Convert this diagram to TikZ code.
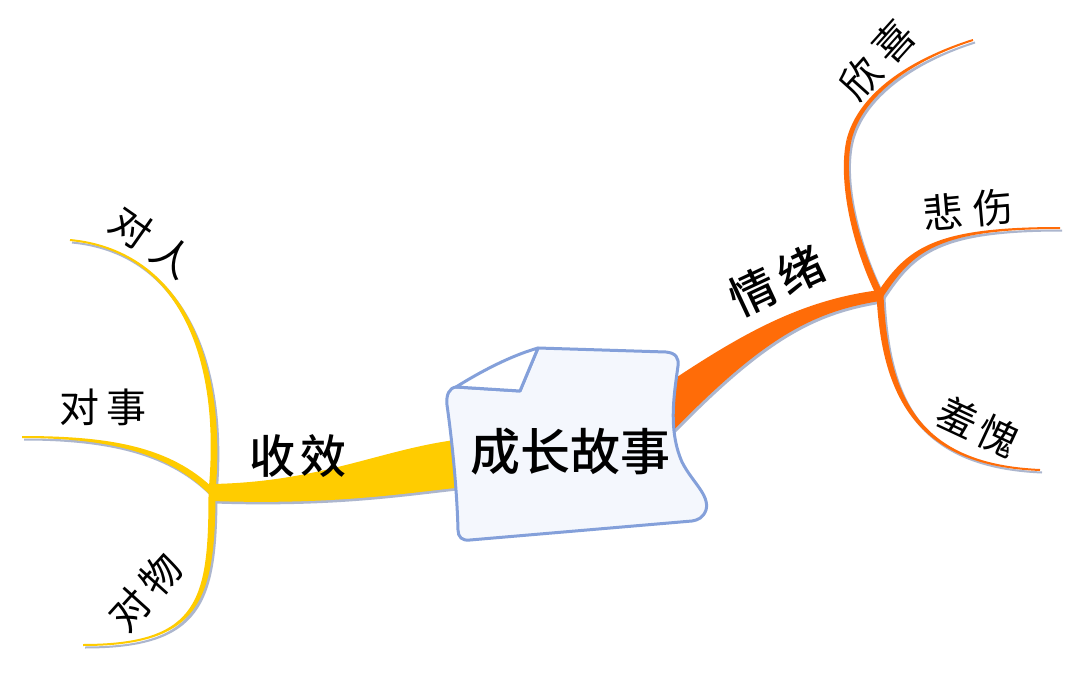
\documentclass[tikz,border=0pt]{standalone}
\usepackage{fontspec}
\newfontfamily\cjk{Noto Sans CJK SC}
\newfontfamily\cjkm{Noto Sans CJK SC Medium}
\usetikzlibrary{calc}
\definecolor{yel}{RGB}{255,204,0}
\definecolor{org}{RGB}{255,108,8}
\definecolor{shad}{RGB}{172,182,206}
\definecolor{docline}{RGB}{132,160,218}
\definecolor{docfill}{RGB}{244,247,253}
% #1 colour, #2 junction, #3 c1, #4 c2, #5 end, #6 half width at junction, #7 half width at end
\newcommand\taper[7]{%
  \fill[#1] ($(#2)!#6!90:(#3)$) .. controls ($(#3)!#6!90:(#4)$) and ($(#4)!#7!90:(#5)$) .. ($(#5)!#7!-90:(#4)$)
    -- ($(#5)!#7!90:(#4)$) .. controls ($(#4)!#7!-90:(#5)$) and ($(#3)!#6!-90:(#4)$) .. ($(#2)!#6!-90:(#3)$) -- cycle;}
\tikzset{
  sublabel/.style={font=\cjk\fontsize{40}{44}\selectfont, inner sep=0pt},
  mainlabel/.style={font=\cjkm\fontsize{46}{50}\selectfont, inner sep=0pt},
  doclabel/.style={font=\cjkm\fontsize{50}{54}\selectfont, inner sep=0pt},
  docshape/.style={draw=docline, line width=3pt, line join=round},
}
\begin{document}
\begin{tikzpicture}[x=1pt,y=-1pt]
\useasboundingbox (0,0) rectangle (1080,696);
\fill[white] (0,0) rectangle (1080,696);
% named points
\coordinate (J1) at (212,492);
\coordinate (J2) at (880,295);
\coordinate (eA) at (70,240);
\coordinate (eB) at (22,437);
\coordinate (eC) at (83,645);
\coordinate (eD) at (973,40);
\coordinate (eD0) at (849,140);
\coordinate (eE) at (1060,228);
\coordinate (eF) at (1040,470);
\coordinate (ys1) at (455,440);
\coordinate (ys2) at (455,488);
\coordinate (J1t) at (212,484);
\coordinate (J1b) at (212,501);
\coordinate (os1) at (665,385);
\coordinate (os2) at (664,440);
\coordinate (J2t) at (880,290);
\coordinate (J2b) at (880,301);
% shadows
\begin{scope}[transform canvas={shift={(2pt,-2.5pt)}}]
  \taper{shad}{J1}{225,350}{175,250}{eA}{3.5pt}{1pt}
  \taper{shad}{J1}{170,450}{110,437}{eB}{3.5pt}{1pt}
  \taper{shad}{J1}{212,600}{200,645}{eC}{3.5pt}{1pt}
  \taper{shad}{J2}{855,245}{840,180}{eD0}{3.5pt}{2.5pt}
  \taper{shad}{eD0}{860,95}{910,60}{eD}{2.5pt}{1pt}
  \taper{shad}{J2}{910,250}{935,228}{eE}{3.5pt}{1pt}
  \taper{shad}{J2}{885,400}{920,465}{eF}{3.5pt}{1pt}
  \fill[shad] (ys1) .. controls (380,450) and (320,482) .. (J1t) -- (J1b) .. controls (330,505) and (400,494) .. (ys2) -- cycle;
  \fill[shad] (os1) .. controls (740,335) and (800,300) .. (J2t) -- (J2b) .. controls (810,312) and (760,340) .. (os2) -- cycle;
\end{scope}
% yellow branches
\taper{yel}{J1}{225,350}{175,250}{eA}{3.5pt}{1pt}
\taper{yel}{J1}{170,450}{110,437}{eB}{3.5pt}{1pt}
\taper{yel}{J1}{212,600}{200,645}{eC}{3.5pt}{1pt}
\fill[yel] (ys1) .. controls (380,450) and (320,482) .. (J1t) -- (J1b) .. controls (330,505) and (400,494) .. (ys2) -- cycle;
% orange branches
\taper{org}{J2}{855,245}{840,180}{eD0}{3.5pt}{2.5pt}
\taper{org}{eD0}{860,95}{910,60}{eD}{2.5pt}{1pt}
\taper{org}{J2}{910,250}{935,228}{eE}{3.5pt}{1pt}
\taper{org}{J2}{885,400}{920,465}{eF}{3.5pt}{1pt}
\fill[org] (os1) .. controls (740,335) and (800,300) .. (J2t) -- (J2b) .. controls (810,312) and (760,340) .. (os2) -- cycle;
% central document
\draw[docshape, fill=docfill] (520,391) -- (538,348) -- (666,352)
  .. controls (676,353) and (679,358) .. (678,366)
  .. controls (674,395) and (668,430) .. (682,462)
  .. controls (692,482) and (710,495) .. (706,510)
  .. controls (703,518) and (698,520) .. (692,521)
  -- (470,540)
  .. controls (462,541) and (458,537) .. (458,530)
  .. controls (457,490) and (452,440) .. (447,405)
  .. controls (446,395) and (449,388) .. (456,387) -- cycle;
\draw[docshape, fill=white] (456,387) .. controls (480,372) and (510,356) .. (538,348) -- (520,391) -- cycle;
\node[doclabel] (doc) at (570,452) {成长故事};
% labels
\node[mainlabel] (shouxiao) at (298,456) {收\kern6pt 效};
\node[mainlabel, rotate=25] (qingxu) at (777,281) {情\kern6pt 绪};
\node[sublabel, rotate=-35] (duiren) at (152,242) {对\kern10pt 人};
\node[sublabel] (duishi) at (103,407) {对\kern8pt 事};
\node[sublabel, rotate=48] (duiwu) at (145,592) {对\kern6pt 物};
\node[sublabel, rotate=48] (xinxi) at (877,60) {欣\kern10pt 喜};
\node[sublabel, rotate=5] (beishang) at (968,210) {悲\kern10pt 伤};
\node[sublabel, rotate=-25] (xiukui) at (978,427) {羞\kern5pt 愧};
\end{tikzpicture}
\end{document}
